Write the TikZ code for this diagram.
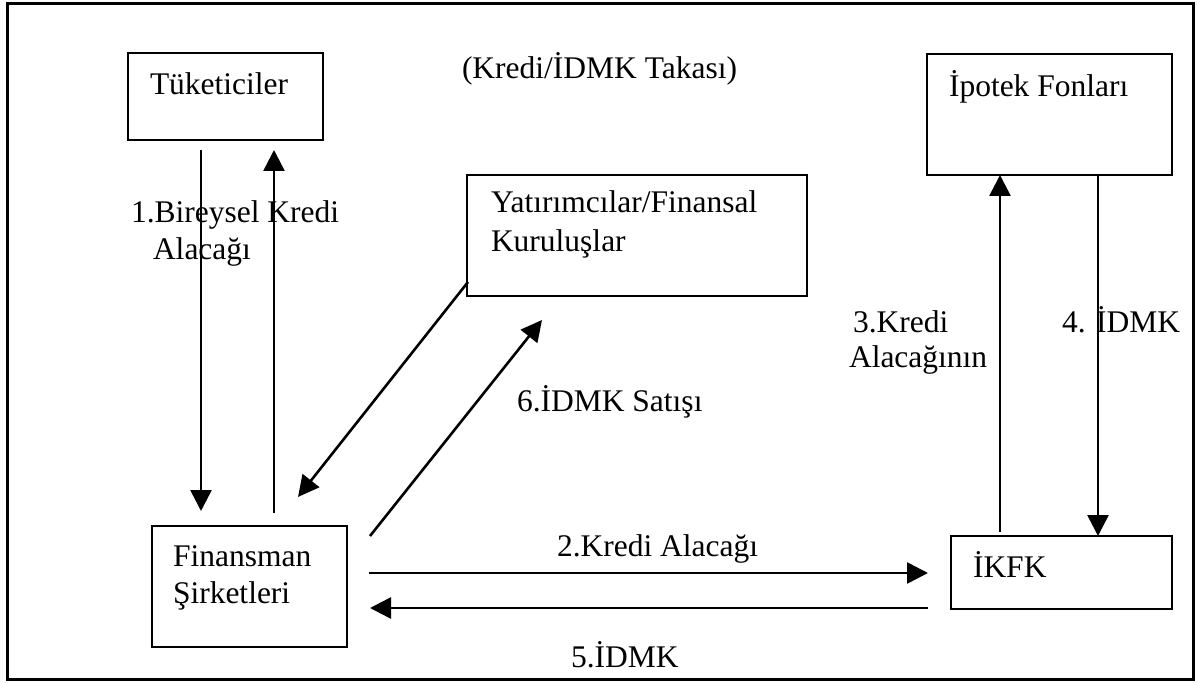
\documentclass[tikz,border=0pt]{standalone}
\usepackage{fontspec}
\setmainfont{Liberation Serif}
\usetikzlibrary{arrows.meta,calc}
\tikzset{
  box/.style={draw, line width=2.8pt, rectangle, inner sep=0pt, outer sep=0pt},
  txt/.style={anchor=base west, inner sep=0pt, outer sep=0pt, font=\fontsize{31.5}{38}\selectfont},
  arr/.style={line width=2.6pt, -{Triangle[length=21pt,width=21pt]}}
}
\begin{document}
\begin{tikzpicture}[x=1pt,y=-1pt]
\useasboundingbox (0,0) rectangle (1197,684);
\draw[line width=3pt] (7,4) rectangle (1193,679);
% boxes
\node[box, minimum width=195pt, minimum height=87pt] (tuk) at (225.5,96.5) {};
\node[box, minimum width=340pt, minimum height=121pt] (yat) at (637,235.5) {};
\node[box, minimum width=245pt, minimum height=121pt] (ipo) at (1049.5,114.5) {};
\node[box, minimum width=221pt, minimum height=73pt] (ikfk) at (1061.5,572.5) {};
\node[box, minimum width=195pt, minimum height=121pt] (fin) at (249.5,586.5) {};
% box texts
\node[txt] (tuktext) at (150,95) {Tüketiciler};
\node[txt] (yattext1) at (491,213) {Yatırımcılar/Finansal};
\node[txt] (yattext2) at (491,252) {Kuruluşlar};
\node[txt] (ipotext) at (949,97) {İpotek Fonları};
\node[txt] (ikfktext) at (973,577) {İKFK};
\node[txt] (fintext1) at (173,566) {Finansman};
\node[txt] (fintext2) at (173,603) {Şirketleri};
% title
\node[txt] (title) at (462,79) {(Kredi/İDMK Takası)};
% connectors
\draw[arr] ($(tuk.south west)+(73,10)$) -- ($(fin.north west)+(49,-15)$);
\draw[arr] ($(fin.north west)+(122,-13)$) -- ($(tuk.south west)+(146,10)$);
\draw[arr] ($(yat.south west)+(1,-14)$) -- ($(fin.north west)+(146,-29)$);
\draw[arr] ($(fin.north east)+(23,10)$) -- ($(yat.south west)+(75,24)$);
\draw[arr] ($(ikfk.north west)+(49,-4)$) -- ($(ipo.south west)+(73,0)$);
\draw[arr] ($(ipo.south west)+(171,0)$) -- ($(ikfk.north west)+(147,0)$);
\draw[arr] ($(fin.north east)+(22,47)$) -- ($(ikfk.north west)+(-23,37)$);
\draw[arr] ($(ikfk.north west)+(-23,72)$) -- ($(fin.north east)+(23,82)$);
% labels
\node[txt] (l1a) at (131,223) {1.Bireysel Kredi};
\node[txt] (l1b) at (153,260) {Alacağı};
\node[txt] (l2) at (557,556) {2.Kredi Alacağı};
\node[txt] (l3a) at (853,333) {3.Kredi};
\node[txt] (l3b) at (849,368) {Alacağının};
\node[txt] (l4) at (1062,333) {4. İDMK};
\node[txt] (l5) at (571,667) {5.İDMK};
\node[txt] (l6) at (517,412) {6.İDMK Satışı};
\end{tikzpicture}
\end{document}
